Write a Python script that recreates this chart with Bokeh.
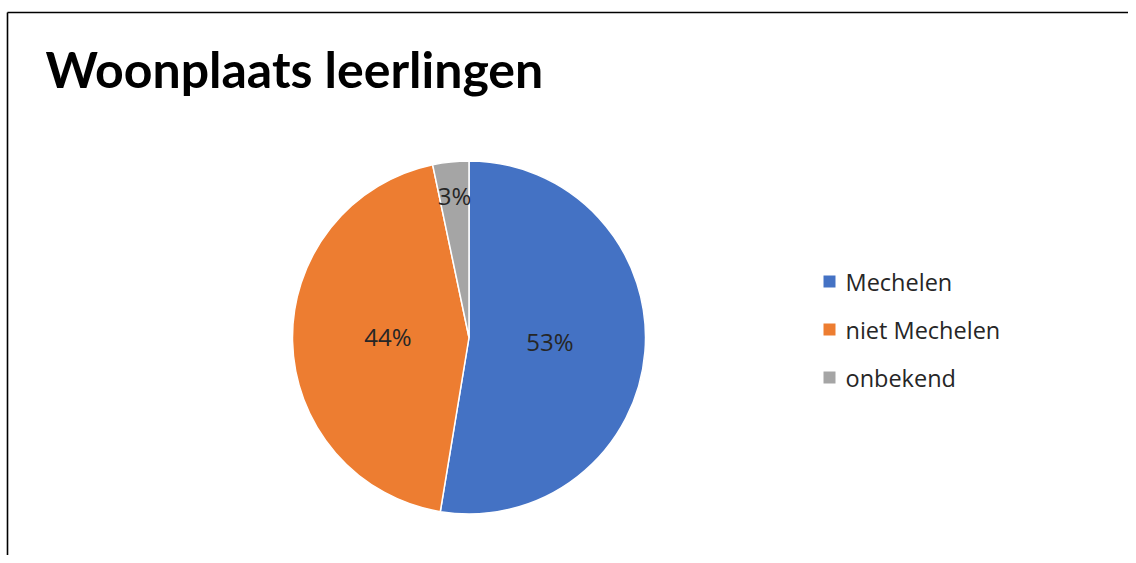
import math
from bokeh.plotting import figure
from bokeh.models import Range1d, ColumnDataSource
from bokeh.core.properties import value
from bokeh.embed import file_html
from bokeh.resources import INLINE

title = "Woonplaats leerlingen"
categories = ["Mechelen", "niet Mechelen", "onbekend"]
shares = [52.6, 44.1, 3.3]
colors = ["#4472C4", "#ED7D31", "#A5A5A5"]

W, H = 1128, 555
p = figure(width=W, height=H, output_backend="svg", toolbar_location=None,
           x_range=Range1d(0, W), y_range=Range1d(0, H), min_border=0)
p.axis.visible = False
p.grid.visible = False
p.outline_line_color = None
p.background_fill_color = "white"

# frame lines (cropped chart area border)
p.line([7, 7], [0, H - 12], line_color="black", line_width=1.6)
p.line([7, W + 10], [H - 12, H - 12], line_color="black", line_width=1.6)

cx, cy, r = 468.5, 218, 176.5
total = sum(shares)
starts, ends, lx, ly, labels = [], [], [], [], []
acc = 0.0
for s in shares:
    a0 = math.pi / 2 - 2 * math.pi * acc / total
    a1 = math.pi / 2 - 2 * math.pi * (acc + s) / total
    starts.append(a0)
    ends.append(a1)
    mid = (a0 + a1) / 2
    frac = 0.46 if s / total > 0.1 else 0.79
    lx.append(cx + frac * r * math.cos(mid))
    ly.append(cy + frac * r * math.sin(mid))
    labels.append(f"{round(100 * s / total)}%")
    acc += s

src = ColumnDataSource(dict(start=starts, end=ends, color=colors, lx=lx, ly=ly, label=labels))
p.wedge(x=cx, y=cy, radius=r, start_angle="start", end_angle="end", direction="clock",
        fill_color="color", line_color="white", line_width=1.5, source=src)
p.text(x="lx", y="ly", text="label", source=src, text_align="center", text_baseline="middle",
       y_offset=-3, text_font=value("Open Sans"), text_font_size="24px", text_color="#262626")

# title
p.text(x=[45], y=[487], text=[title], text_font=value("Lato"), text_font_style="bold",
       text_font_size="50px", text_color="black", text_baseline="alphabetic")

# legend
lgx, lgy0, step = 823, 274, 48
leg = ColumnDataSource(dict(
    x=[lgx + 6] * 3,
    y=[lgy0 - i * step for i in range(3)],
    tx=[lgx + 22] * 3,
    color=colors, label=categories))
p.rect(x="x", y="y", width=12, height=12, fill_color="color", line_color=None, source=leg)
p.text(x="tx", y="y", text="label", source=leg, text_baseline="middle",
       text_font=value("Open Sans"), text_font_size="23.5px", text_color="#262626")

open("out.html", "w").write(file_html(p, INLINE))
